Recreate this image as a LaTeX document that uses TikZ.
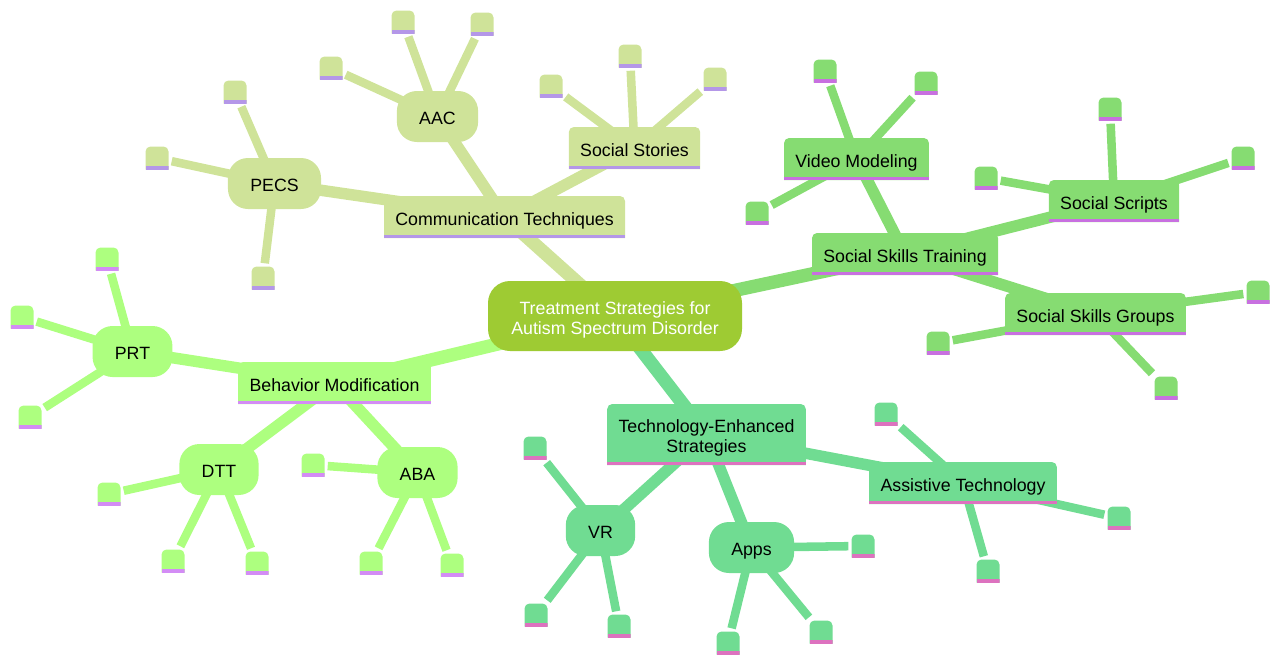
\documentclass[tikz,border=0pt]{standalone}
\usepackage{fontspec}
\setmainfont{Liberation Sans}
\usepackage{tikz}
\usetikzlibrary{backgrounds, positioning}
\definecolor{rootc}{HTML}{9ECB33}
\definecolor{commc}{HTML}{CFE399}
\definecolor{commb}{HTML}{B497E8}
\definecolor{sociac}{HTML}{86DC72}
\definecolor{sociab}{HTML}{C870E0}
\definecolor{behac}{HTML}{ADFF7F}
\definecolor{behab}{HTML}{D38CF5}
\definecolor{techc}{HTML}{70DC92}
\definecolor{techb}{HTML}{DD72BF}
\tikzset{
    every node/.style = {font=\fontsize{13.33}{14.6}\selectfont, align=center, text=black, text height=12pt, text depth=0pt},
    rootbox/.style = {rectangle, rounded corners=16.5pt, fill=rootc, minimum width=190.5pt, minimum height=52.5pt, text=white, text height=27.5pt},
    PL/.style = {rectangle, rounded corners=15pt, fill=#1, inner xsep=16.75pt, minimum height=38.25pt}, % pill
    % box with rounded top and a stripe along the bottom
    SB/.style 2 args = {rectangle, inner xsep=8.5pt, minimum height=31.5pt, path picture={
        \fill[#1] (path picture bounding box.south west) [rounded corners=3.75pt]
            -- (path picture bounding box.north west) -- (path picture bounding box.north east)
            [sharp corners] -- (path picture bounding box.south east) -- cycle;
        \fill[#2] ([yshift=2.6pt]path picture bounding box.south west) rectangle (path picture bounding box.south east);
    }},
    LF/.style 2 args = {SB={#1}{#2}, inner sep=0pt, minimum width=17.25pt, minimum height=17.25pt, outer sep=2.4pt},
    E1/.style = {line width=10pt, draw=#1},
    E2/.style = {line width=8.6pt, draw=#1},
    E3/.style = {line width=6.4pt, draw=#1}
}
\begin{document}
\begin{tikzpicture}[x=0.75pt, y=-0.75pt]
  \useasboundingbox (0,0) rectangle (1280,665);
  \node [rootbox] (root) at (615,316) {Treatment Strategies for\\Autism Spectrum Disorder};

  \node [SB={commc}{commb}] (comm) at (504.5,217) {Communication Techniques};
  \node [SB={sociac}{sociab}] (skills) at (905,254) {Social Skills Training};
  \node [SB={behac}{behab}] (beha) at (334.5,383) {Behavior Modification};
  \node [SB={techc}{techb}, minimum height=45.75pt, text height=26.3pt] (tech) at (706.5,434.5) {Technology-Enhanced\\Strategies};

  \node [SB={commc}{commb}] (stories) at (634.5,148) {Social Stories};
  \node [PL=commc] (aac) at (437.5,116.5) {AAC};
  \node [PL=commc] (pecs) at (274.5,183.5) {PECS};
  \node [SB={sociac}{sociab}] (video) at (856.5,159) {Video Modeling};
  \node [SB={sociac}{sociab}] (scripts) at (1114,201) {Social Scripts};
  \node [SB={sociac}{sociab}] (groups) at (1095.5,314) {Social Skills Groups};
  \node [PL=behac] (prt) at (132.5,351.5) {PRT};
  \node [PL=behac] (dtt) at (219,469.5) {DTT};
  \node [PL=behac] (aba) at (417.5,472.5) {ABA};
  \node [PL=techc] (vr) at (600.5,530.5) {VR};
  \node [PL=techc] (apps) at (751.5,547.5) {Apps};
  \node [SB={techc}{techb}] (assist) at (963,483) {Assistive Technology};

  % leaves
  \foreach \name/\x/\y in {aac1/331/68, aac2/403/22, aac3/482/24, pecs1/235/92, pecs2/157/158, pecs3/263/278, stories1/551/86, stories2/630/56, stories3/715/79}
    \node [LF={commc}{commb}] (\name) at (\x,\y) {};
  \foreach \name/\x/\y in {video1/825/71, video2/926/83, video3/757/213, scripts1/986/178, scripts2/1110/109, scripts3/1243/158, groups1/938/343, groups2/1258/292, groups3/1166/388}
    \node [LF={sociac}{sociab}] (\name) at (\x,\y) {};
  \foreach \name/\x/\y in {prt1/107/259, prt2/22/317, prt3/30/417, dtt1/109/494, dtt2/173/561, dtt3/257/563, aba1/313/465, aba2/371/563, aba3/452/565}
    \node [LF={behac}{behab}] (\name) at (\x,\y) {};
  \foreach \name/\x/\y in {vr1/535/448, vr2/536/615, vr3/619/626, apps1/863/546, apps2/728/643, apps3/821/632, assist1/886/414, assist2/1119/518, assist3/988/571}
    \node [LF={techc}{techb}] (\name) at (\x,\y) {};

  \begin{scope}[on background layer]
    \draw [E1=commc] (root.center) -- (comm.center);
    \draw [E1=sociac] (root.center) -- (skills.center);
    \draw [E1=behac] (root.center) -- (beha.center);
    \draw [E1=techc] (root.center) -- (tech.center);
    \foreach \a/\b in {comm/stories, comm/aac, comm/pecs}
      \draw [E2=commc] (\a.center) -- (\b.center);
    \foreach \a/\b in {skills/video, skills/scripts, skills/groups}
      \draw [E2=sociac] (\a.center) -- (\b.center);
    \foreach \a/\b in {beha/prt, beha/dtt, beha/aba}
      \draw [E2=behac] (\a.center) -- (\b.center);
    \foreach \a/\b in {tech/vr, tech/apps, tech/assist}
      \draw [E2=techc] (\a.center) -- (\b.center);
    \foreach \a in {aac, pecs, stories}
      \foreach \i in {1,2,3}
        \draw [E3=commc] (\a.center) -- (\a\i);
    \foreach \a in {video, scripts, groups}
      \foreach \i in {1,2,3}
        \draw [E3=sociac] (\a.center) -- (\a\i);
    \foreach \a in {prt, dtt, aba}
      \foreach \i in {1,2,3}
        \draw [E3=behac] (\a.center) -- (\a\i);
    \foreach \a in {vr, apps, assist}
      \foreach \i in {1,2,3}
        \draw [E3=techc] (\a.center) -- (\a\i);
  \end{scope}
\end{tikzpicture}
\end{document}
